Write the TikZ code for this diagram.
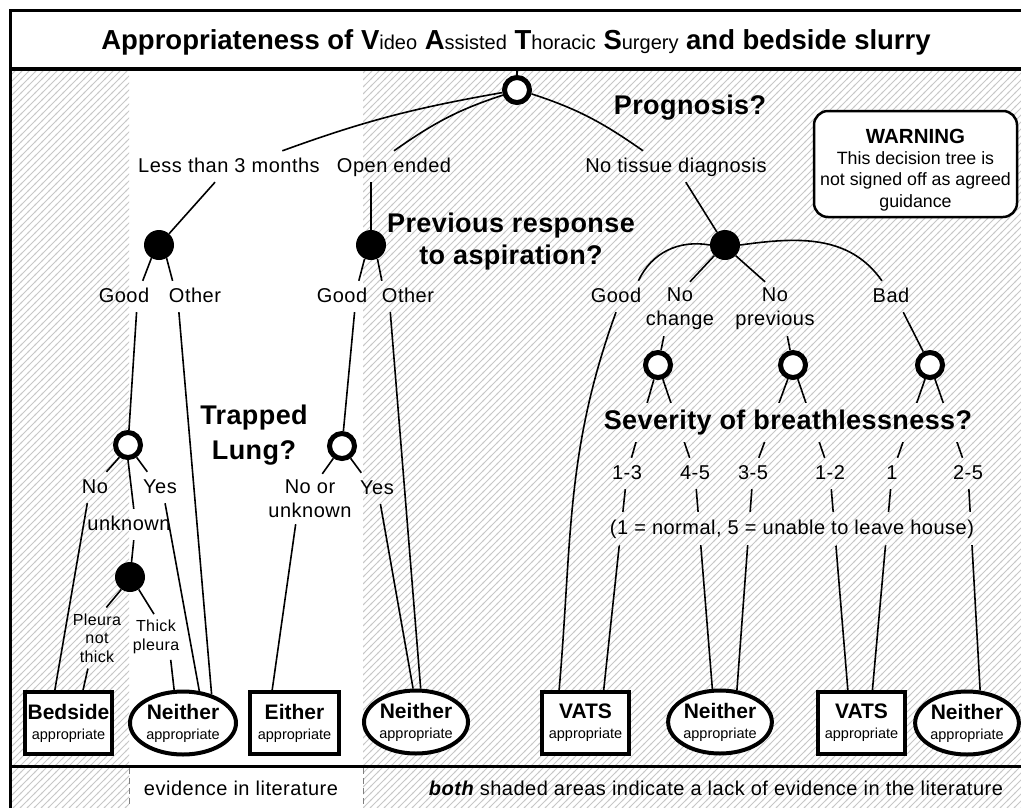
\documentclass[tikz,border=0pt]{standalone}
\usepackage{fontspec}
\setmainfont{Liberation Sans}
\newfontfamily\lsp[LetterSpace=2.5]{Liberation Sans}
\newfontfamily\hsp[LetterSpace=1.5]{Liberation Sans}
\usetikzlibrary{shapes.geometric,patterns,calc}

\pgfdeclarepatternformonly{diaghatch}{\pgfqpoint{-1pt}{-1pt}}{\pgfqpoint{8pt}{8pt}}{\pgfqpoint{7pt}{7pt}}{%
  \pgfsetlinewidth{0.9pt}%
  \pgfpathmoveto{\pgfqpoint{-1pt}{-1pt}}%
  \pgfpathlineto{\pgfqpoint{8pt}{8pt}}%
  \pgfusepath{stroke}}

\definecolor{hatchgray}{gray}{0.78}
\pgfdeclarelayer{hatchlayer}
\pgfdeclarelayer{linelayer}
\pgfsetlayers{hatchlayer,linelayer,main}

\newcommand\smpart[1]{{\mdseries\fontsize{20}{22}\selectfont #1}}
\newcommand\leafbig[1]{{\bfseries\fontsize{21}{20}\selectfont #1}}

\tikzset{
  lbl/.style={font=\lsp\fontsize{20}{24}\selectfont, inner sep=6pt, text height=15pt, text depth=4pt, anchor=base},
  mlbl/.style={font=\lsp\fontsize{20}{24}\selectfont, inner sep=6pt, align=center},
  slbl/.style={font=\lsp\fontsize{16}{18.5}\selectfont, inner sep=6pt, align=center},
  head/.style={font=\hsp\bfseries\fontsize{27}{32}\selectfont, inner sep=2pt, align=center},
  opencirc/.style={circle, draw, line width=5pt, fill=white, minimum size=25pt, inner sep=0pt},
  blackdot/.style={circle, fill=black, minimum size=30pt, inner sep=0pt},
  leafbox/.style={rectangle, draw, line width=4pt, fill=white, minimum height=62pt, inner sep=0pt, align=center, font=\fontsize{14.5}{20}\selectfont},
  leafell/.style={ellipse, draw, line width=4pt, fill=white, minimum height=63pt, inner sep=0pt, align=center, font=\fontsize{14.5}{20}\selectfont},
  conn/.style={line width=1.6pt},
  hmask/.style={preaction={fill=white}, pattern=diaghatch, pattern color=hatchgray},
  warnbox/.style={rectangle, rounded corners=14pt, draw, line width=2.5pt, fill=white, minimum width=203pt, minimum height=106pt, inner sep=0pt, align=center, font=\fontsize{17.8}{21.3}\selectfont}
}

\begin{document}
\begin{tikzpicture}[x=1pt,y=1pt]
\useasboundingbox (0,0) rectangle (1021,-807);
\clip (0,0) rectangle (1021,-807);

\begin{pgfonlayer}{hatchlayer}
  \fill[white] (0,0) rectangle (1021,-807);
  \fill[pattern=diaghatch, pattern color=hatchgray] (10,-69) rectangle (129,-807);
  \fill[pattern=diaghatch, pattern color=hatchgray] (363,-69) rectangle (1030,-807);
\end{pgfonlayer}

% frame
\draw[line width=3pt] (10,-850) -- (10,-10) -- (1030,-10);
\draw[line width=4pt] (10,-69) -- (1030,-69);
\draw[line width=3pt] (10,-766) -- (1030,-766);
\draw[gray, line width=1pt, dash pattern=on 6pt off 4pt] (129,-768) -- (129,-807);
\draw[gray, line width=1pt, dash pattern=on 6pt off 4pt] (363,-768) -- (363,-807);

% title
\node[anchor=base, inner sep=0pt, font=\fontsize{27.5}{30}\selectfont\bfseries] (title) at (516,-49)
  {Appropriateness of V\smpart{ideo} A\smpart{ssisted} T\smpart{horacic} S\smpart{urgery} and bedside slurry};

% headings
\node[head, anchor=base] (prognosis) at (690,-114) {Prognosis?};
\node[head, font=\hsp\bfseries\fontsize{27}{32}\selectfont] (previous) at (511,-241.5) {Previous response\\to aspiration?};
\node[head, font=\hsp\bfseries\fontsize{27}{35}\selectfont] (trapped) at (254,-435) {Trapped\\Lung?};
\node[head, anchor=base, hmask, text height=19pt, text depth=5.5pt, inner ysep=7pt, inner xsep=4pt] (severity) at (788,-429) {Severity of breathlessness?};

% warning
\node[warnbox] (warn) at (915.5,-164) {\rule{0pt}{26pt}{\bfseries\fontsize{20.5}{21.3}\selectfont WARNING}\\This decision tree is\\not signed off as agreed\\guidance};

% decision points
\node[opencirc] (root) at (517,-90) {};
\coordinate (rt) at (517,-69);
\node[blackdot] (dot1) at (159,-245) {};
\node[blackdot] (dot2) at (371,-245) {};
\node[blackdot] (dot3) at (725,-245) {};
\node[opencirc] (oc1) at (128,-445) {};
\node[opencirc] (oc2) at (342,-446) {};
\node[opencirc] (oc3) at (658,-365) {};
\node[opencirc] (oc4) at (793,-365) {};
\node[opencirc] (oc5) at (930,-365) {};
\node[blackdot] (dot4) at (130,-577) {};

% labels
\node[lbl] (less) at (229,-172) {Less than 3 months};
\node[lbl] (open) at (394,-172) {Open ended};
\node[lbl] (notissue) at (676,-172) {No tissue diagnosis};
\node[lbl] (good1) at (124,-302) {Good};
\node[lbl] (other1) at (195,-302) {Other};
\node[lbl] (good2) at (342,-302) {Good};
\node[lbl] (other2) at (408,-302) {Other};
\node[lbl] (good3) at (616,-302) {Good};
\node[mlbl] (nochange) at (680,-309) {No\\change};
\node[mlbl] (noprev) at (775,-309) {No\\previous};
\node[lbl] (bad) at (891,-302) {Bad};
\node[lbl] (no1) at (95,-493) {No};
\node[lbl] (yes1) at (160,-493) {Yes};
\node[lbl] (unknown1) at (129,-530) {unknown};
\node[mlbl] (noor) at (310,-499) {No or\\unknown};
\node[lbl] (yes2) at (377,-494) {Yes};
\node[slbl] (pleura) at (97,-638) {Pleura\\not\\thick};
\node[slbl] (thick) at (156,-637) {Thick\\pleura};
\node[lbl] (r13) at (627,-479) {1-3};
\node[lbl] (r45) at (695,-479) {4-5};
\node[lbl] (r35) at (753,-479) {3-5};
\node[lbl] (r12) at (830,-479) {1-2};
\node[lbl] (r1) at (892,-479) {1};
\node[lbl] (r25) at (968,-479) {2-5};
\node[lbl, hmask, inner ysep=7pt, inner xsep=3pt] (scale) at (792,-534) {(1 = normal, 5 = unable to leave house)};

% leaves
\node[leafbox, minimum width=87pt] (bedside) at (68.5,-723) {\leafbig{Bedside}\\appropriate};
\node[leafell, minimum width=106pt] (neither1) at (183,-723) {\leafbig{Neither}\\appropriate};
\node[leafbox, minimum width=89pt] (either) at (294.5,-723) {\leafbig{Either}\\appropriate};
\node[leafell, minimum width=104pt] (neither2) at (416,-722) {\leafbig{Neither}\\appropriate};
\node[leafbox, minimum width=87pt] (vats1) at (585.5,-723) {\leafbig{VATS}\\appropriate};
\node[leafell, minimum width=102pt] (neither3) at (720,-722) {\leafbig{Neither}\\appropriate};
\node[leafbox, minimum width=87pt] (vats2) at (861.5,-723) {\leafbig{VATS}\\appropriate};
\node[leafell, minimum width=100pt] (neither4) at (967,-723) {\leafbig{Neither}\\appropriate};

% bottom row
\node[lbl] (evid) at (241,-795) {evidence in literature};
\node[lbl] (both) at (716,-795) {{\bfseries\itshape both} shaded areas indicate a lack of evidence in the literature};

% connectors
\begin{pgfonlayer}{linelayer}
\draw[conn] (root) -- (rt);
\draw[conn] (root.190) to[out=190,in=20] ($(less.north)!0.55!(less.north east)$);
\draw[conn] (root.200) to[out=198,in=35] (open.north);
\draw[conn] (root.345) to[out=-18,in=145] ($(notissue.north)!0.34!(notissue.north west)$);
\draw[conn] (less) -- (dot1);
\draw[conn] (open.south -| dot2) -- (dot2);
\draw[conn] (notissue) -- (dot3);

\draw[conn] (dot1.240) -- (good1.40);
\draw[conn] (dot1.300) -- (other1.145);
\draw[conn] (dot2.245) -- (good2.43);
\draw[conn] (dot2.295) -- (other2.149);
\draw[conn] (dot3.west) to[out=170,in=65] (good3.35);
\draw[conn] (dot3.225) -- (nochange.70);
\draw[conn] (dot3.315) -- (noprev.110);
\draw[conn] (dot3.east) to[out=8,in=125] (bad.120);

\draw[conn] ($(good1.south)!0.4!(good1.south east)$) -- (oc1);
\draw[conn] ($(good2.south)!0.4!(good2.south east)$) -- (oc2);
\draw[conn] ($(nochange.south)!0.4!(nochange.south west)$) -- (oc3);
\draw[conn] ($(noprev.south)!0.27!(noprev.south east)$) -- (oc4);
\draw[conn] ($(bad.south)!0.5!(bad.south east)$) -- (oc5);

\draw[conn] (oc1.235) -- (no1.54);
\draw[conn] (oc1.305) -- (yes1.129);
\draw[conn] (oc1.south) -- ($(unknown1.north)!0.1!(unknown1.north east)$);
\draw[conn] ($(unknown1.south)!0.1!(unknown1.south east)$) -- (dot4);
\draw[conn] (dot4.235) -- (pleura.73);
\draw[conn] (dot4.305) -- (thick.95);
\draw[conn] (oc2.235) -- (noor.64);
\draw[conn] (oc2.305) -- (yes2.135);

\draw[conn] (oc3) -- (r13);
\draw[conn] (oc3) -- (r45);
\draw[conn] (oc4) -- (r35);
\draw[conn] (oc4) -- (r12);
\draw[conn] (oc5) -- (r1);
\draw[conn] (oc5) -- (r25);

\draw[conn] ($(no1.south)!0.4!(no1.south west)$) -- ($(bedside.north west)!0.35!(bedside.north east)$);
\draw[conn] ($(pleura.south)!0.3!(pleura.south west)$) -- ($(bedside.north west)!0.66!(bedside.north east)$);
\draw[conn] ($(thick.south)!0.5!(thick.south east)$) -- (neither1.105);
\draw[conn] ($(yes1.south)!0.22!(yes1.south east)$) -- (neither1.63);
\draw[conn] ($(other1.south)!0.5!(other1.south west)$) -- (neither1.45);
\draw[conn] ($(noor.south)!0.3!(noor.south west)$) -- ($(either.north west)!0.26!(either.north east)$);
\draw[conn] ($(yes2.south)!0.15!(yes2.south east)$) -- (neither2.95);
\draw[conn] ($(other2.south)!0.55!(other2.south west)$) -- (neither2.82);
\draw[conn] (good3.south) to[out=250,in=85] ($(vats1.north west)!0.21!(vats1.north east)$);
\draw[conn] (r13) -- ($(vats1.north west)!0.70!(vats1.north east)$);
\draw[conn] (r45) -- (neither3.103);
\draw[conn] (r35) -- (neither3.62);
\draw[conn] (r12) -- ($(vats2.north west)!0.35!(vats2.north east)$);
\draw[conn] (r1) -- ($(vats2.north west)!0.62!(vats2.north east)$);
\draw[conn] (r25) -- (neither4.68);
\end{pgfonlayer}
\end{tikzpicture}
\end{document}
